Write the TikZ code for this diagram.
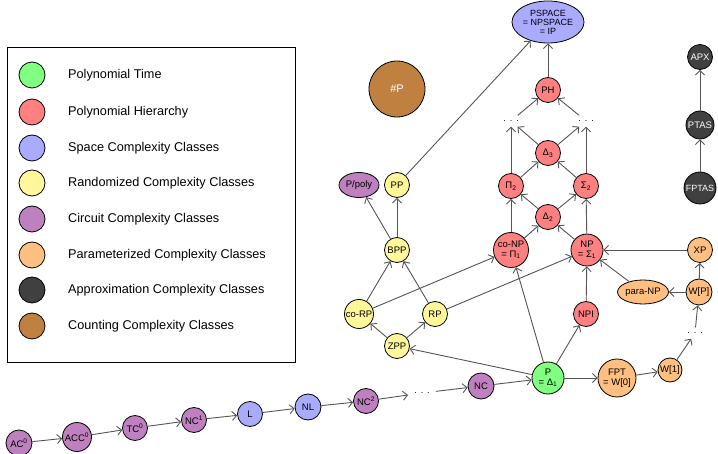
\documentclass[tikz,border=0pt]{standalone}
\usepackage{fontspec}
\setmainfont{Liberation Sans}
\usetikzlibrary{arrows.meta,shapes.geometric}
\definecolor{cgreen}{HTML}{80FF80}
\definecolor{cred}{HTML}{FF8080}
\definecolor{cblue}{HTML}{AAAAFF}
\definecolor{cyellow}{HTML}{FFF799}
\definecolor{cpurple}{HTML}{BF80BF}
\definecolor{corange}{HTML}{FFBF80}
\definecolor{cdark}{HTML}{404040}
\definecolor{cbrown}{HTML}{BF8040}
\definecolor{edgegray}{HTML}{555555}
\tikzset{
  cls/.style={circle, draw=black, line width=0.8pt, inner sep=0pt, minimum size=25pt,
    font=\fontsize{9.5}{9.5}\selectfont, align=center, text=black},
  ell/.style={cls, ellipse},
  dotsnode/.style={inner sep=5pt, font=\fontsize{9}{9.5}\selectfont},
  edge/.style={draw=edgegray, line width=0.9pt, -{Straight Barb[length=4.5pt,width=9pt]}},
  lgcirc/.style={circle, draw=black, line width=0.8pt, minimum size=26pt, inner sep=0pt},
  lgtext/.style={anchor=west, inner sep=0pt, font=\fontsize{12.7}{14}\selectfont},
}
\newcommand{\mydots}{.\hspace{4pt}.\hspace{4pt}.}
\begin{document}
\begin{tikzpicture}[x=1pt,y=-1pt]
\useasboundingbox (0,0) rectangle (718,454);

% legend
\node[draw=black, line width=0.8pt, minimum width=288pt, minimum height=315pt, inner sep=0pt, anchor=north west] (legend) at (7,47) {};
\foreach \col/\txt/\yy [count=\i] in {
  cgreen/Polynomial Time/75,
  cred/Polynomial Hierarchy/112,
  cblue/Space Complexity Classes/148,
  cyellow/Randomized Complexity Classes/183,
  cpurple/Circuit Complexity Classes/219,
  corange/Parameterized Complexity Classes/255,
  cdark/Approximation Complexity Classes/290,
  cbrown/Counting Complexity Classes/326}{
  \node[lgcirc, fill=\col] (lc\i) at (32,\yy) {};
  \node[lgtext] (lt\i) at (68,\yy) {\txt};
}

% space / hierarchy
\node[ell, fill=cblue, minimum width=72pt, minimum height=42pt, font=\fontsize{9}{9}\selectfont] (pspace) at (548,22) {PSPACE\\= NPSPACE\\= IP};
\node[cls, fill=cbrown, minimum size=56pt, text=white, font=\fontsize{11}{12}\selectfont] (sharpp) at (397,89) {\#P};
\node[cls, fill=cred] (ph) at (548,90) {PH};
\node[dotsnode] (dotsL) at (511,121) {\mydots};
\node[dotsnode] (dotsR) at (586,121) {\mydots};
\node[cls, fill=cred] (d3) at (548,153) {Δ\textsubscript{3}};
\node[cls, fill=cred] (pi2) at (511,186) {Π\textsubscript{2}};
\node[cls, fill=cred] (sig2) at (586,186) {Σ\textsubscript{2}};
\node[cls, fill=cred] (d2) at (548,217) {Δ\textsubscript{2}};
\node[cls, fill=cred, minimum size=35pt] (conp) at (511,250) {co-NP\\= Π\textsubscript{1}};
\node[cls, fill=cred, minimum size=32pt] (np) at (587,250) {NP\\= Σ\textsubscript{1}};
\node[cls, fill=cred] (npi) at (586,314) {NPI};

% randomized
\node[ell, fill=cpurple, minimum width=40pt, minimum height=25pt] (ppoly) at (359,185) {P/poly};
\node[cls, fill=cyellow] (pp) at (397,185) {PP};
\node[cls, fill=cyellow] (bpp) at (397,250) {BPP};
\node[cls, fill=cyellow, minimum size=29pt] (corp) at (359,314) {co-RP};
\node[cls, fill=cyellow] (rp) at (435,314) {RP};
\node[cls, fill=cyellow] (zpp) at (397,346) {ZPP};

% P and parameterized
\node[cls, fill=cgreen, minimum size=32pt] (p) at (548,378) {P\\= Δ\textsubscript{1}};
\node[cls, fill=corange, minimum size=38pt] (fpt) at (617,378) {FPT\\= W[0]};
\node[cls, fill=corange, minimum size=24pt] (w1) at (670,370) {W[1]};
\node[dotsnode] (dotsW) at (695,333) {\mydots};
\node[cls, fill=corange, minimum size=26pt] (wp) at (699,292) {W[P]};
\node[cls, fill=corange] (xp) at (700,250) {XP};
\node[ell, fill=corange, minimum width=51pt, minimum height=24pt] (paranp) at (643,292) {para-NP};

% approximation
\node[cls, fill=cdark, text=white] (apx) at (700,57) {APX};
\node[cls, fill=cdark, text=white, minimum size=28pt] (ptas) at (700,125) {PTAS};
\node[cls, fill=cdark, text=white, minimum size=32pt, font=\fontsize{9}{9}\selectfont] (fptas) at (700,188) {FPTAS};

% circuit chain
\node[cls, fill=cpurple, minimum size=26pt] (ac0) at (19,443) {AC\textsuperscript{0}};
\node[cls, fill=cpurple, minimum size=29pt] (acc0) at (77,437) {ACC\textsuperscript{0}};
\node[cls, fill=cpurple] (tc0) at (135,428) {TC\textsuperscript{0}};
\node[cls, fill=cpurple] (nc1) at (194,420) {NC\textsuperscript{1}};
\node[cls, fill=cblue] (l) at (250,414) {L};
\node[cls, fill=cblue, minimum size=26pt] (nl) at (308,407) {NL};
\node[cls, fill=cpurple] (nc2) at (366,401) {NC\textsuperscript{2}};
\node[dotsnode, inner sep=6pt] (dotsB) at (422,393) {\mydots};
\node[cls, fill=cpurple, minimum size=26pt] (nc) at (481,386) {NC};

% edges
\draw[edge] (ac0) -- (acc0);
\draw[edge] (acc0) -- (tc0);
\draw[edge] (tc0) -- (nc1);
\draw[edge] (nc1) -- (l);
\draw[edge] (l) -- (nl);
\draw[edge] (nl) -- (nc2);
\draw[edge] (nc2) -- (dotsB);
\draw[edge] (dotsB) -- (nc);
\draw[edge] (nc) -- (p);

\draw[edge] (p) -- (fpt);
\draw[edge] (fpt) -- (w1);
\draw[edge] (w1) -- (dotsW);
\draw[edge] (dotsW) -- (wp);
\draw[edge] (wp) -- (xp);
\draw[edge] (wp) -- (paranp);
\draw[edge] (paranp) -- (np);
\draw[edge] (xp) -- (np);

\draw[edge] (p) -- (npi);
\draw[edge] (npi) -- (np);
\draw[edge] (p) -- (conp);
\draw[edge] (p) -- (zpp);

\draw[edge] (zpp) -- (corp);
\draw[edge] (zpp) -- (rp);
\draw[edge] (corp) -- (bpp);
\draw[edge] (rp) -- (bpp);
\draw[edge] (corp) -- (conp);
\draw[edge] (rp) -- (np);
\draw[edge] (bpp) -- (pp);
\draw[edge] (bpp) -- (ppoly);
\draw[edge] (pp) -- (pspace);

\draw[edge] (conp) -- (pi2);
\draw[edge] (conp) -- (d2);
\draw[edge] (np) -- (d2);
\draw[edge] (np) -- (sig2);
\draw[edge] (d2) -- (pi2);
\draw[edge] (d2) -- (sig2);
\draw[edge] (pi2) -- (d3);
\draw[edge] (sig2) -- (d3);
\draw[edge] (pi2) -- (dotsL);
\draw[edge] (sig2) -- (dotsR);
\draw[edge] (d3) -- (dotsL);
\draw[edge] (d3) -- (dotsR);
\draw[edge] (dotsL) -- (ph);
\draw[edge] (dotsR) -- (ph);
\draw[edge] (ph) -- (pspace);

\draw[edge] (fptas) -- (ptas);
\draw[edge] (ptas) -- (apx);
\end{tikzpicture}
\end{document}
